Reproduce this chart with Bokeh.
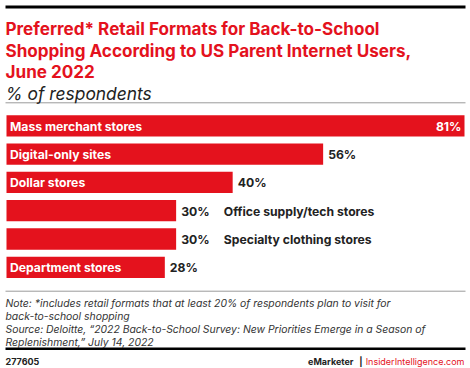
from bokeh.plotting import figure
from bokeh.models import Range1d, Label, ColumnDataSource
from bokeh.core.properties import value
from bokeh.embed import file_html
from bokeh.resources import INLINE

# ---- data ----
categories = ["Mass merchant stores", "Digital-only sites", "Dollar stores",
              "Office supply/tech stores", "Specialty clothing stores", "Department stores"]
values = [81, 56, 40, 30, 30, 28]
value_labels = ["81%", "56%", "40%", "30%", "30%", "28%"]
label_inside = [True, True, True, False, False, True]

title_lines = ["Preferred* Retail Formats for Back-to-School",
               "Shopping According to US Parent Internet Users,",
               "June 2022"]
subtitle = "% of respondents"
note_lines = ["Note: *includes retail formats that at least 20% of respondents plan to visit for",
              "back-to-school shopping",
              "Source: Deloitte, \u201c2022 Back-to-School Survey: New Priorities Emerge in a Season of",
              "Replenishment,\u201d July 14, 2022"]
chart_id = "277605"
brand_left = "eMarketer"
brand_right = "InsiderIntelligence.com"

# ---- style ----
RED = "#e4121d"
DARK = "#222222"
FONT = "Inter"
W, H = 470, 368
BAR_X0 = 6.0                  # pixel of value 0
PX_PER_UNIT = 458 / 81.0
ROW = 28.3
BAR_H = 21.3 / ROW
TOP_CENTER = 125.3
LBL = "12.2px"

x0 = -BAR_X0 / PX_PER_UNIT
x1 = x0 + W / PX_PER_UNIT
ytop = -TOP_CENTER / ROW
ybot = ytop + H / ROW

def dx(px):
    return x0 + px / PX_PER_UNIT

def dy(py):
    return ytop + py / ROW

p = figure(width=W, height=H, output_backend="svg", toolbar_location=None, title=None,
           x_range=Range1d(x0, x1), y_range=Range1d(ybot, ytop), min_border=0)
p.axis.visible = False
p.grid.visible = False
p.outline_line_color = None
p.background_fill_color = "white"
p.border_fill_color = "white"

# rules (layout lines)
rule_centers = [6.5, 102.3, 290.7, 348.2]
rule_thick = [3, 1, 1, 2.5]
rule_colors = ["black", "#9a9a9a", "#9a9a9a", "black"]
rsrc = ColumnDataSource(dict(x0=[dx(5)] * 4, x1=[dx(465)] * 4,
                             y=[dy(c) for c in rule_centers],
                             w=rule_thick, c=rule_colors))
p.segment(x0="x0", x1="x1", y0="y", y1="y", line_width="w", line_color="c", source=rsrc)

idx = list(range(len(categories)))
src = ColumnDataSource(dict(y=idx, v=values))
p.hbar(y="y", right="v", left=0, height=BAR_H, source=src,
       fill_color=RED, line_color=None)

vmax = max(values)
ins = [i for i in idx if label_inside[i]]
outs = [i for i in idx if not label_inside[i]]

def txt(rows, xs, texts, xoff, color, align="left"):
    s = ColumnDataSource(dict(y=rows, x=xs, t=texts))
    p.text(x="x", y="y", text="t", source=s, x_offset=xoff, y_offset=0.5,
           text_baseline="middle", text_align=align, text_color=color,
           text_font=value(FONT), text_font_style="bold", text_font_size=LBL)

# category labels inside bars
txt(ins, [0] * len(ins), [categories[i] for i in ins], 3.5, "white")
# category labels right of short bars
txt(outs, [values[i] for i in outs], [categories[i] for i in outs], 47.7, DARK)
# values right of bars
vo = [i for i in idx if values[i] != vmax]
txt(vo, [values[i] for i in vo], [value_labels[i] for i in vo], 5, DARK)
# largest value inside its bar
vi = [i for i in idx if values[i] == vmax]
txt(vi, [values[i] for i in vi], [value_labels[i] for i in vi], -3, "white", "right")

def lab(x, y, text, size, color, style="normal", align="left"):
    p.add_layout(Label(x=dx(x), y=dy(y), text=text,
                       text_font=FONT, text_font_size=size, text_color=color,
                       text_font_style=style, text_align=align,
                       text_baseline="alphabetic"))

for i, t in enumerate(title_lines):
    lab(5, 28 + 21.5 * i, t, "17.1px", RED, "bold")
lab(5, 93, subtitle, "17.4px", DARK, "italic")
for i, t in enumerate(note_lines):
    lab(5, 303.4 + 12.8 * i, t, "10.4px", "#333333", "italic")
lab(5, 361, chart_id, "9px", DARK, "bold")
lab(464, 361, brand_right, "9px", RED, "normal", "right")
lab(360.5, 361, "|", "9px", DARK, "bold", "center")
lab(353, 361, brand_left, "9px", DARK, "bold", "right")

open("out.html", "w").write(file_html(p, INLINE))
